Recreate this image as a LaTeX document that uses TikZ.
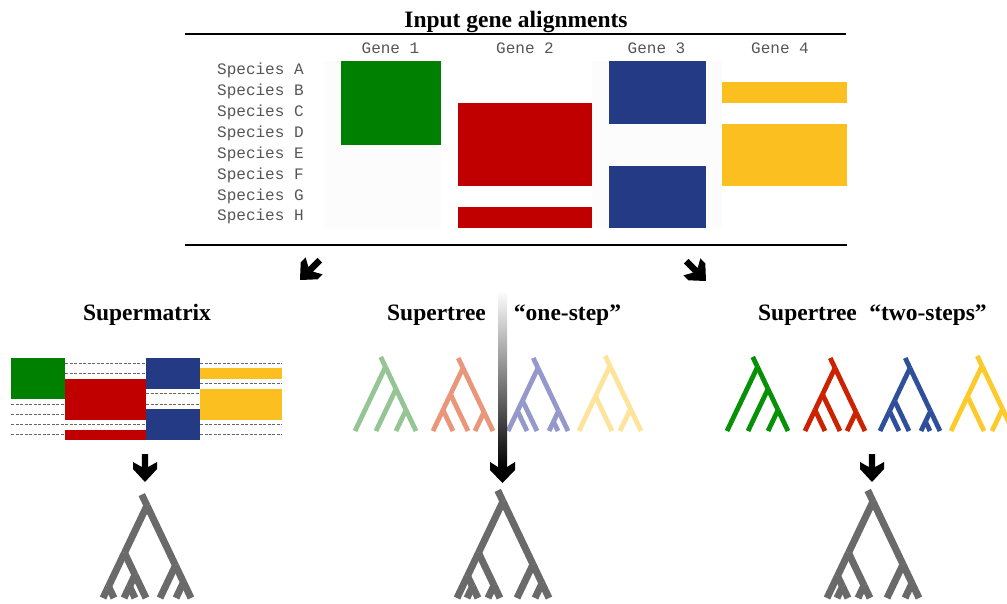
\documentclass[tikz,border=0pt]{standalone}
\usepackage{fontspec}
\setmainfont{Liberation Serif}
\setmonofont{Liberation Mono}
\usepackage{tikz}
\usetikzlibrary{calc,positioning}
\definecolor{gA}{HTML}{008000}
\definecolor{gB}{HTML}{C00000}
\definecolor{gC}{HTML}{243A84}
\definecolor{gD}{HTML}{FBBF1F}
\definecolor{tA}{HTML}{079107}
\definecolor{tB}{HTML}{CC2200}
\definecolor{tC}{HTML}{2F4F9B}
\definecolor{tD}{HTML}{FCCA2A}
\definecolor{fA}{HTML}{95C595}
\definecolor{fB}{HTML}{E9967A}
\definecolor{fC}{HTML}{9598CA}
\definecolor{fD}{HTML}{FEE39B}
\definecolor{treeg}{HTML}{6A6A6A}
\definecolor{labc}{HTML}{555555}
\definecolor{gapc}{HTML}{666666}
\definecolor{colbg}{HTML}{FCFCFC}
\tikzset{
  hd/.style={font=\fontsize{23.5}{28}\selectfont\bfseries,inner sep=0pt,anchor=base},
  lbl/.style={font=\ttfamily\fontsize{16}{19}\selectfont,text=labc,inner sep=0pt},
  gap/.style={draw=gapc,dash pattern=on 3pt off 1.5pt,line width=0.9pt},
  tr/.style={line width=4.8pt},
  bigtr/.style={line width=7pt,treeg}
}
% filled row ranges of one gene: x0, x1, top, row height, colour, ranges
\newcommand{\blk}[6]{\foreach \a/\b in {#6}{\fill[#5] (#1,{#3+\a*#4}) rectangle (#2,{#3+\b*#4});}}
% dashed rows for missing data
\newcommand{\gaps}[5]{\foreach \r in {#5}{\draw[gap] (#1,{#3+(\r+0.5)*#4}) -- (#2,{#3+(\r+0.5)*#4});}}
% slanted cladogram: branch between clades given by their leaf spans
\newcommand{\twig}[4]{\draw ({(#1+#2)/2},{\tb-(#2-#1)*1.05}) -- ({(#3+#4)/2},{\tb-(#4-#3)*1.05});}
\newcommand{\trunk}[3]{\draw ({(#1+#2)/2-0.476*#3},{\tb-(#2-#1)*1.05-#3}) -- ({(#1+#2)/2},{\tb-(#2-#1)*1.05});}
\newcommand{\fatarrow}[3]{\fill[black,shift={(#1,#2)},rotate=#3] (0,0) -- (12,-13) -- (12,-20) -- (3.2,-15) -- (3.2,-28) -- (-3.2,-28) -- (-3.2,-15) -- (-12,-20) -- (-12,-13) -- cycle;}
% the four gene trees
\newcommand{\quartet}[5]{
\begin{scope}[xshift=#1pt,tr]
\def\tb{431}
\begin{scope}[#2]
\trunk{727}{788}{10}
\twig{727}{788}{727}{727} \twig{727}{788}{748}{788}
\twig{748}{788}{748}{748} \twig{748}{788}{768}{788}
\twig{768}{788}{768}{768} \twig{768}{788}{788}{788}
\end{scope}
\begin{scope}[#3]
\trunk{805}{865}{10}
\twig{805}{865}{805}{840} \twig{805}{865}{847}{865}
\twig{805}{840}{805}{825} \twig{805}{840}{840}{840}
\twig{805}{825}{805}{805} \twig{805}{825}{825}{825}
\twig{847}{865}{847}{847} \twig{847}{865}{865}{865}
\end{scope}
\begin{scope}[#4]
\trunk{880}{940}{10}
\twig{880}{940}{880}{909} \twig{880}{940}{921}{940}
\twig{880}{909}{880}{899} \twig{880}{909}{909}{909}
\twig{880}{899}{880}{880} \twig{880}{899}{899}{899}
\twig{921}{940}{921}{930} \twig{921}{940}{940}{940}
\twig{921}{930}{921}{921} \twig{921}{930}{930}{930}
\end{scope}
\begin{scope}[#5]
\trunk{951}{1013}{10}
\twig{951}{1013}{951}{984} \twig{951}{1013}{992}{1013}
\twig{951}{984}{951}{951} \twig{951}{984}{984}{984}
\twig{992}{1013}{992}{992} \twig{992}{1013}{1013}{1013}
\end{scope}
\end{scope}}
% consensus tree of the supertree methods
\newcommand{\suptree}[1]{
\begin{scope}[xshift=#1pt,bigtr]
\def\tb{598}
\trunk{457}{549}{11}
\twig{457}{549}{457}{500} \twig{457}{549}{517}{549}
\twig{457}{500}{457}{478} \twig{457}{500}{488}{500}
\twig{457}{478}{457}{457} \twig{457}{478}{467}{478}
\twig{467}{478}{467}{467} \twig{467}{478}{478}{478}
\twig{488}{500}{488}{488} \twig{488}{500}{500}{500}
\twig{517}{549}{517}{517} \twig{517}{549}{535}{549}
\twig{535}{549}{535}{535} \twig{535}{549}{549}{549}
\end{scope}}

\begin{document}
\begin{tikzpicture}[x=1pt,y=-1pt]
\path[use as bounding box] (0,0) rectangle (1007,603);
\clip (0,0) rectangle (1007,603);

% input alignments
\node[hd] (ttl) at (516,27.5) {Input gene alignments};
\draw[line width=1.2pt] (185,34) -- (846,34);
\draw[line width=1.2pt] (185,245) -- (847,245);
\fill[colbg] (324,61) rectangle (441,228.2);
\fill[colbg] (592,61) rectangle (722,228.2);
\foreach \s [count=\k from 0] in {A,...,H}
  \node[lbl,anchor=base west] (sp\s) at (217,{74.6+20.9*\k}) {Species \s};
\foreach \g/\x in {1/390.5,2/525,3/656.5,4/780}
  \node[lbl,anchor=base] (gene\g) at (\x,53.6) {Gene \g};
\blk{341}{441}{61}{20.9}{gA}{0/4}
\blk{458}{592}{61}{20.9}{gB}{2/6,7/8}
\blk{609}{706}{61}{20.9}{gC}{0/3,5/8}
\blk{722}{847}{61}{20.9}{gD}{1/2,3/6}

\fatarrow{300}{280}{-45}
\fatarrow{706}{281}{45}

% supermatrix
\node[hd] (smx) at (147,320.5) {Supermatrix};
\blk{11}{65}{358}{10.25}{gA}{0/4}
\blk{65}{146}{358}{10.25}{gB}{2/6,7/8}
\blk{146}{200}{358}{10.25}{gC}{0/3,5/8}
\blk{200}{282}{358}{10.25}{gD}{1/2,3/6}
\gaps{11}{65}{358}{10.25}{4,5,6,7}
\gaps{65}{146}{358}{10.25}{0,1,6}
\gaps{146}{200}{358}{10.25}{3,4}
\gaps{200}{282}{358}{10.25}{0,2,6,7}
\fatarrow{145}{482}{0}
\begin{scope}[bigtr]
\def\tb{598}
\trunk{103}{191}{11}
\twig{103}{191}{103}{146} \twig{103}{191}{160}{191}
\twig{103}{146}{103}{114} \twig{103}{146}{124}{146}
\twig{103}{114}{103}{103} \twig{103}{114}{114}{114}
\twig{124}{146}{124}{135} \twig{124}{146}{146}{146}
\twig{124}{135}{124}{124} \twig{124}{135}{135}{135}
\twig{160}{191}{160}{160} \twig{160}{191}{176}{191}
\twig{176}{191}{176}{176} \twig{176}{191}{191}{191}
\end{scope}

% supertree, one step
\node[hd] (st1) at (436.5,320.5) {Supertree};
\node[hd] (one) at (567.5,320.5) {“one-step”};
\quartet{-372}{fA}{fB}{fC}{fD}
\shade[top color=white,bottom color=black] (498,290) rectangle (507,468);
\fill (502.5,483) -- (515,470) -- (515,462) -- (507,467) -- (498,467) -- (490,462) -- (490,470) -- cycle;
\suptree{0}

% supertree, two steps
\node[hd] (st2) at (807.5,320.5) {Supertree};
\node[hd] (two) at (928,320.5) {“two-steps”};
\quartet{0}{tA}{tB}{tC}{tD}
\fatarrow{872}{482}{0}
\suptree{370}
\end{tikzpicture}
\end{document}
